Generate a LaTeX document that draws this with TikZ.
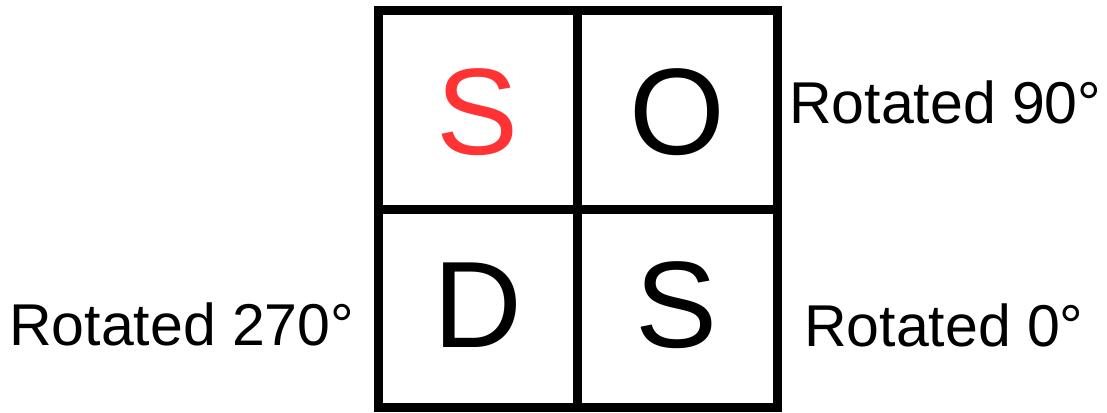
\documentclass[tikz,border=0pt]{standalone}
\usepackage{fontspec}
\setmainfont{Liberation Sans}
\definecolor{sred}{RGB}{255,51,51}
\begin{document}
\begin{tikzpicture}[x=1pt,y=-1pt,
  gridline/.style={line width=9pt,black},
  letter/.style={inner sep=0pt,anchor=base,font=\fontsize{123}{123}\selectfont},
  lbl/.style={inner sep=0pt,anchor=base west,font=\fontsize{59}{59}\selectfont}]
\useasboundingbox (0,0) rectangle (1107,412);
\draw[gridline] (378,10.5) rectangle (777,407);
\draw[gridline] (577,10.5) -- (577,407);
\draw[gridline] (378,209.5) -- (777,209.5);
\node[letter,text=sred] (s1) at (478,154) {S};
\node[letter] (o) at (677,154) {O};
\node[letter] (d) at (478,347) {D};
\node[letter] (s2) at (677,347) {S};
\node[lbl] (r90) at (789,123) {Rotated 90°};
\node[lbl] (r0) at (804,346) {Rotated 0°};
\node[lbl] (r270) at (9,345) {Rotated 270°};
\end{tikzpicture}
\end{document}
